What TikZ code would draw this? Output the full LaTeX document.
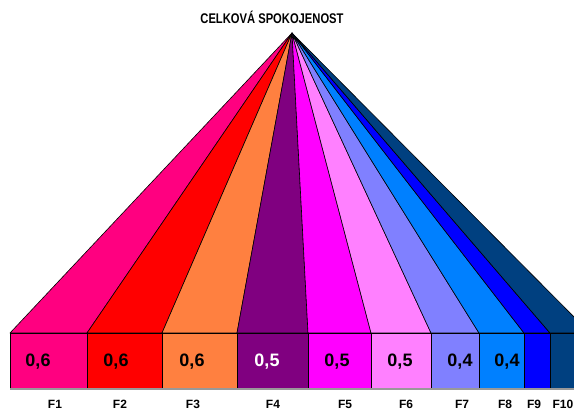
\documentclass[tikz,border=0pt]{standalone}
\usepackage{fontspec}
\setmainfont{Liberation Sans}
\definecolor{c1}{HTML}{FF0080}
\definecolor{c2}{HTML}{FF0000}
\definecolor{c3}{HTML}{FF8040}
\definecolor{c4}{HTML}{800080}
\definecolor{c5}{HTML}{FF00FF}
\definecolor{c6}{HTML}{FF80FF}
\definecolor{c7}{HTML}{8080FF}
\definecolor{c8}{HTML}{0080FF}
\definecolor{c9}{HTML}{0000FF}
\definecolor{c10}{HTML}{004080}
\begin{document}
\begin{tikzpicture}[x=1pt,y=-1pt,
  box/.style={draw=black,line width=1pt,inner sep=0pt,outer sep=0pt,minimum height=56pt,anchor=north west},
  sector/.style={draw=black,line width=0.6pt,line join=round},
  val/.style={font=\bfseries\fontsize{18}{18}\selectfont,inner sep=0pt},
  flab/.style={font=\bfseries\fontsize{12}{12}\selectfont,inner sep=0pt,anchor=base},
  title/.style={font=\bfseries\fontsize{14}{14}\selectfont,inner sep=0pt,anchor=base,xscale=0.8}]
\clip (0,0) rectangle (574,412);
\fill[white] (0,0) rectangle (574,412);
\coordinate (apex) at (292,33);
% boxes
\node[box,fill=c1,minimum width=77pt] (b1) at (10,333) {};
\node[box,fill=c2,minimum width=75pt] (b2) at (87,333) {};
\node[box,fill=c3,minimum width=75pt] (b3) at (162,333) {};
\node[box,fill=c4,minimum width=71pt] (b4) at (237,333) {};
\node[box,fill=c5,minimum width=63pt] (b5) at (308,333) {};
\node[box,fill=c6,minimum width=60pt] (b6) at (371,333) {};
\node[box,fill=c7,minimum width=48pt] (b7) at (431,333) {};
\node[box,fill=c8,minimum width=45pt] (b8) at (479,333) {};
\node[box,fill=c9,minimum width=26pt] (b9) at (524,333) {};
\node[box,fill=c10,minimum width=40pt] (b10) at (550,333) {};
\draw[gray!80,line width=1.5pt] (b1.south west) -- (b10.south east);
% sectors
\foreach \i in {1,...,10}{
  \filldraw[sector,fill=c\i] (apex) -- (b\i.north west) -- (b\i.north east) -- cycle;
}
\foreach \i in {1,...,10}{
  \draw[line width=1pt] (b\i.north west) -- (b\i.north east);
}
% values
\node[val] (v1) at (38,362) {0,6};
\node[val] (v2) at (116,362) {0,6};
\node[val] (v3) at (192,362) {0,6};
\node[val,text=white] (v4) at (267,362) {0,5};
\node[val] (v5) at (337,362) {0,5};
\node[val] (v6) at (400,362) {0,5};
\node[val] (v7) at (460,362) {0,4};
\node[val] (v8) at (507,362) {0,4};
% factor labels
\node[flab] (f1) at (55,408) {F1};
\node[flab] (f2) at (120,408) {F2};
\node[flab] (f3) at (193,408) {F3};
\node[flab] (f4) at (273,408) {F4};
\node[flab] (f5) at (345,408) {F5};
\node[flab] (f6) at (406,408) {F6};
\node[flab] (f7) at (462,408) {F7};
\node[flab] (f8) at (505,408) {F8};
\node[flab] (f9) at (534,408) {F9};
\node[flab] (f10) at (563,408) {F10};
% title
\node[title] (t) at (272,24) {CELKOVÁ SPOKOJENOST};
\end{tikzpicture}
\end{document}
